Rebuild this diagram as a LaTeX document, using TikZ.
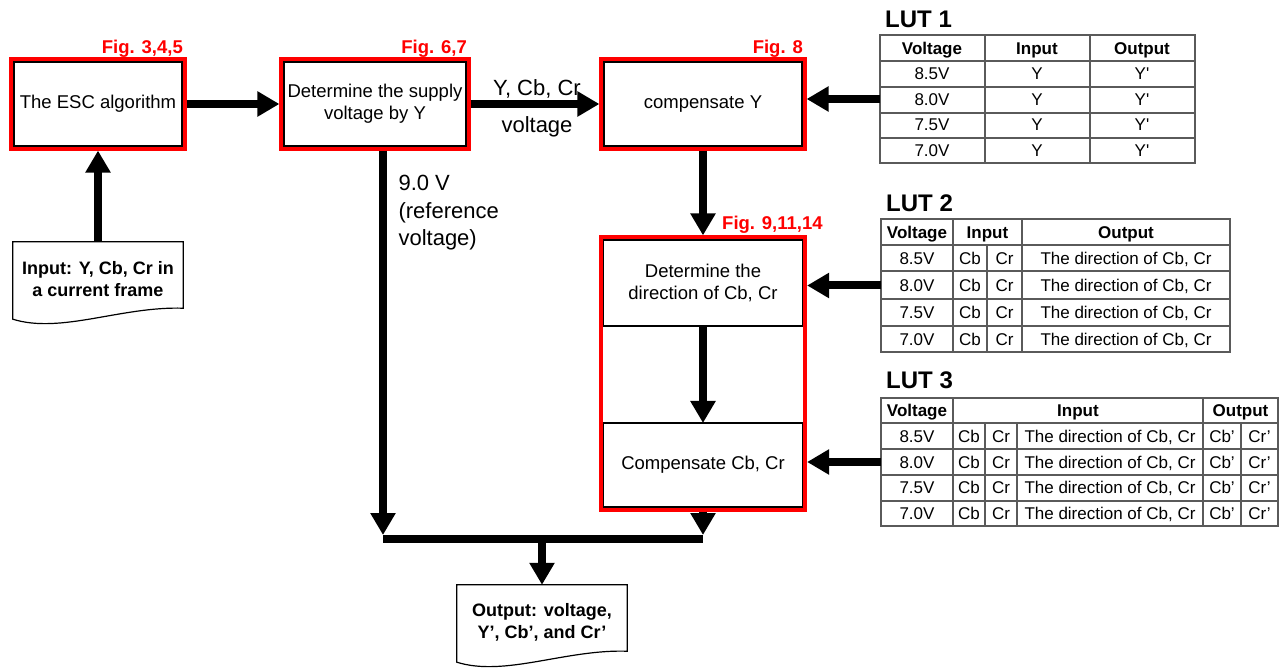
\documentclass[tikz,border=0pt]{standalone}
\usepackage{fontspec}
\setmainfont{Liberation Sans}
\usetikzlibrary{arrows.meta,fit}
\definecolor{lutgray}{RGB}{90,90,90}

\tikzset{
  procbox/.style={draw=black, line width=1.2pt, fill=white, outer sep=0pt, inner sep=2pt, align=center, font=\fontsize{18.5}{22}\selectfont},
  redframe/.style={draw=red, line width=4pt, inner sep=2.6pt},
  figlbl/.style={text=red, inner sep=0pt, font=\fontsize{18.5}{22}\selectfont\bfseries},
  bigarrow/.style={line width=8pt, -{Triangle[length=22pt,width=24pt]}},
  thickline/.style={line width=8pt},
  arrlbl/.style={align=left, font=\fontsize{22}{27.5}\selectfont},
  docnode/.style={minimum width=170pt, minimum height=74pt, inner sep=0pt, align=center, font=\fontsize{18}{22}\selectfont\bfseries},
  docline/.style={draw=black, line width=1.2pt},
  lutframe/.style={draw=lutgray, line width=1.2pt, anchor=north west, inner sep=0pt, outer sep=0pt},
  lutline/.style={draw=lutgray, line width=1.2pt},
  luttitle/.style={anchor=base west, inner sep=0pt, font=\fontsize{24}{28}\selectfont\bfseries},
  luthead/.style={inner sep=0pt, text height=12.2pt, text depth=0pt, font=\fontsize{17}{20}\selectfont\bfseries},
  lutcell/.style={inner sep=0pt, text height=12.2pt, text depth=0pt, font=\fontsize{17}{20}\selectfont},
}

\begin{document}
\begin{tikzpicture}[x=1pt, y=-1pt]
\fill[white] (0,0) rectangle (1286,668);
\useasboundingbox (0,0) rectangle (1286,668);

% processing boxes
\node[procbox, minimum width=168pt, minimum height=84pt] (esc) at (98,104) {The ESC algorithm};
\node[procbox, minimum width=182pt, minimum height=84pt] (sup) at (375,104) {Determine the supply\\voltage by Y};
\node[procbox, minimum width=198pt, minimum height=84pt] (cmpy) at (703,104) {compensate Y};
\node[procbox, minimum width=199pt, minimum height=86pt] (dir) at (703,283) {Determine the\\direction of Cb, Cr};
\node[procbox, minimum width=199pt, minimum height=84pt] (cmpc) at (703,465) {Compensate Cb, Cr};

% red frames
\node[redframe, fit=(esc)] (escf) {};
\node[redframe, fit=(sup)] (supf) {};
\node[redframe, fit=(cmpy)] (cmpyf) {};
\node[redframe, fit=(dir)(cmpc)] (cbcrf) {};

\node[figlbl, anchor=base east] (fig1) at (183,54) {Fig. 3,4,5};
\node[figlbl, anchor=base east] (fig2) at (467,54) {Fig. 6,7};
\node[figlbl, anchor=base east] (fig3) at (803,54) {Fig. 8};
\node[figlbl, anchor=base west] (fig4) at (722,230) {Fig. 9,11,14};

% input / output documents
\node[docnode] (indoc) at (98,279) {Input: Y, Cb, Cr in\\a current frame};
\draw[docline] ([shift={(0,3)}]indoc.south west) -- (indoc.north west) -- (indoc.north east)
  -- ([shift={(0,-8)}]indoc.south east)
  .. controls ([shift={(-62,-10)}]indoc.south east) and ([shift={(48,18)}]indoc.south west)
  .. ([shift={(0,3)}]indoc.south west) -- cycle;
\node[docnode] (outdoc) at (542,622) {Output: voltage,\\Y’, Cb’, and Cr’};
\draw[docline] ([shift={(0,3)}]outdoc.south west) -- (outdoc.north west) -- (outdoc.north east)
  -- ([shift={(0,-8)}]outdoc.south east)
  .. controls ([shift={(-62,-10)}]outdoc.south east) and ([shift={(48,18)}]outdoc.south west)
  .. ([shift={(0,3)}]outdoc.south west) -- cycle;

% labels
\node[arrlbl] (ycbcr) at (537,89) {Y, Cb, Cr};
\node[arrlbl] (vlt) at (537,127) {voltage};
\node[arrlbl, anchor=north west] (refv) at (395,172) {9.0 V\\(reference\\voltage)};

% arrows
\draw[bigarrow] (indoc) -- (escf);
\draw[bigarrow] (escf) -- (supf);
\draw[bigarrow] (supf) -- (cmpyf);
\draw[bigarrow] (cmpyf) -- (cbcrf);
\draw[bigarrow] (dir) -- (cmpc);

\coordinate (jl) at (383,539);
\coordinate (jm) at (542,539);
\coordinate (jr) at (703,539);
\draw[bigarrow] (supf.south -| jl) -- ([shift={(0,-4)}]jl);
\draw[bigarrow] (cbcrf.south -| jr) -- ([shift={(0,-4)}]jr);
\draw[thickline] (jl) -- (jr);
\draw[bigarrow] ([shift={(0,4)}]jm) -- (outdoc);

% LUT 1
\node[lutframe, minimum width=315pt, minimum height=128pt] (lut1) at (880,35) {};
\node[luttitle] (lut1t) at (885,28) {LUT 1};
\foreach \y in {61,87,113,138} \draw[lutline] (880,\y) -- (1195,\y);
\foreach \x in {985,1090} \draw[lutline] (\x,35) -- (\x,163);
\node[luthead] (l1h1) at (932,48) {Voltage};
\node[luthead] (l1h2) at (1037,48) {Input};
\node[luthead] (l1h3) at (1142,48) {Output};
\foreach \v [count=\i] in {8.5V,8.0V,7.5V,7.0V} {
  \node[lutcell] (l1v\i) at (932,{48+25.6*\i}) {\v};
  \node[lutcell] (l1i\i) at (1037,{48+25.6*\i}) {Y};
  \node[lutcell] (l1o\i) at (1142,{48+25.6*\i}) {Y\textquotesingle};
}

% LUT 2
\node[lutframe, minimum width=349pt, minimum height=133pt] (lut2) at (881,219) {};
\node[luttitle] (lut2t) at (886,212) {LUT 2};
\foreach \y in {245,271,299,326} \draw[lutline] (881,\y) -- (1230,\y);
\foreach \x in {953,1022} \draw[lutline] (\x,219) -- (\x,352);
\draw[lutline] (987,245) -- (987,352);
\node[luthead] (l2h1) at (917,232) {Voltage};
\node[luthead] (l2h2) at (987.5,232) {Input};
\node[luthead] (l2h3) at (1126,232) {Output};
\foreach \v [count=\i] in {8.5V,8.0V,7.5V,7.0V} {
  \node[lutcell] (l2v\i) at (917,{232+26.75*\i}) {\v};
  \node[lutcell] (l2b\i) at (970,{232+26.75*\i}) {Cb};
  \node[lutcell] (l2r\i) at (1004.5,{232+26.75*\i}) {Cr};
  \node[lutcell] (l2o\i) at (1126,{232+26.75*\i}) {The direction of Cb, Cr};
}

% LUT 3
\node[lutframe, minimum width=397pt, minimum height=128pt] (lut3) at (881,398) {};
\node[luttitle] (lut3t) at (886,389) {LUT 3};
\foreach \y in {423,449,475,501} \draw[lutline] (881,\y) -- (1278,\y);
\foreach \x in {953,1203} \draw[lutline] (\x,398) -- (\x,526);
\foreach \x in {985,1017,1241} \draw[lutline] (\x,423) -- (\x,526);
\node[luthead] (l3h1) at (917,410.5) {Voltage};
\node[luthead] (l3h2) at (1078,410.5) {Input};
\node[luthead] (l3h3) at (1240.5,410.5) {Output};
\foreach \v [count=\i] in {8.5V,8.0V,7.5V,7.0V} {
  \node[lutcell] (l3v\i) at (917,{410.5+25.75*\i}) {\v};
  \node[lutcell] (l3b\i) at (969,{410.5+25.75*\i}) {Cb};
  \node[lutcell] (l3r\i) at (1001,{410.5+25.75*\i}) {Cr};
  \node[lutcell] (l3d\i) at (1110,{410.5+25.75*\i}) {The direction of Cb, Cr};
  \node[lutcell] (l3p\i) at (1222,{410.5+25.75*\i}) {Cb’};
  \node[lutcell] (l3q\i) at (1259.5,{410.5+25.75*\i}) {Cr’};
}

% lookup arrows
\draw[bigarrow] (lut1.west) -- (lut1.west -| cmpyf.east);
\draw[bigarrow] (lut2.west) -- (lut2.west -| cbcrf.east);
\draw[bigarrow] (lut3.west) -- (lut3.west -| cbcrf.east);
\end{tikzpicture}
\end{document}
